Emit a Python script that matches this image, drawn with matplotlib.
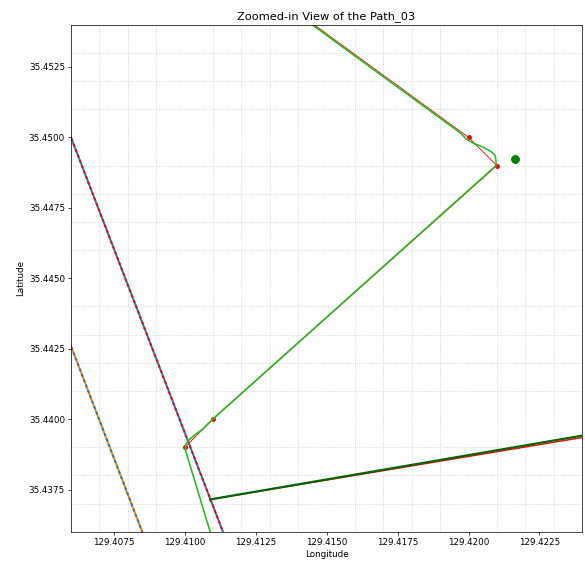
import numpy as np
import matplotlib
matplotlib.use("Agg")
import matplotlib.pyplot as plt
from matplotlib import ticker

# lane centre lines (solid) with the reference lines drawn dashed on top
lane_a_lon = [129.4055, 129.4120]
lane_a_lat = [35.4513, 35.4343]
lane_b_lon = [129.4055, 129.4090]
lane_b_lat = [35.4439, 35.4347]

# crossing road
road_lon = [129.4109, 129.4245]
road_lat = [35.43715, 35.43950]
road_ref_lat = [35.43715, 35.43943]

# planned waypoints of Path_03
wp_lon = [129.4100, 129.4110, 129.4210, 129.4200, 129.4132]
wp_lat = [35.4390, 35.4400, 35.4490, 35.4500, 35.4550]

# smoothed trajectory through the waypoints
traj_lon = [129.41108, 129.41090, 129.41002, 129.41006, 129.41017, 129.41038,
            129.41062, 129.41087, 129.41101, 129.42097, 129.42097, 129.42094,
            129.42080, 129.42048, 129.42013, 129.41992, 129.41971, 129.41298]
traj_lat = [35.43545, 35.43600, 35.43893, 35.43914, 35.43928, 35.43946,
            35.43963, 35.43988, 35.44002, 35.44900, 35.44914, 35.44935,
            35.44949, 35.44967, 35.44981, 35.44994, 35.45016, 35.45511]

# current vehicle position
pos_lon = [129.42164]
pos_lat = [35.44924]

DPI = 63
fig, ax = plt.subplots(figsize=(585 / DPI, 561 / DPI), dpi=DPI)
fig.subplots_adjust(left=0.1215, right=0.995, top=0.956, bottom=0.052)

ax.plot(lane_a_lon, lane_a_lat, color='tab:blue', lw=2.2)
ax.plot(lane_a_lon, lane_a_lat, color='red', lw=2.2, dashes=(1.5, 1.5))
ax.plot(lane_b_lon, lane_b_lat, color='tab:orange', lw=2.2)
ax.plot(lane_b_lon, lane_b_lat, color='tab:blue', lw=2.2, dashes=(1.5, 1.5))

ax.plot(road_lon, road_ref_lat, color='red', lw=1.6)
ax.plot(road_lon, road_lat, color='#006400', lw=2.5)

ax.plot(wp_lon, wp_lat, color='red', lw=1.0, marker='o', markersize=4.5)
ax.plot(traj_lon, traj_lat, color='#22bb22', lw=1.8)
ax.plot(pos_lon, pos_lat, 'o', color='green', markersize=9)

ax.set_xlim(129.406, 129.424)
ax.set_ylim(35.436, 35.454)
ax.ticklabel_format(useOffset=False)
ax.xaxis.set_major_locator(ticker.MultipleLocator(0.0025))
ax.yaxis.set_major_locator(ticker.MultipleLocator(0.0025))
ax.xaxis.set_minor_locator(ticker.MultipleLocator(0.001))
ax.yaxis.set_minor_locator(ticker.MultipleLocator(0.001))
ax.tick_params(which='minor', length=0)
ax.grid(which='minor', color='#cccccc', linestyle=':', lw=0.9)

ax.set_title('Zoomed-in View of the Path_03', fontsize=13)
ax.set_xlabel('Longitude')
ax.set_ylabel('Latitude')

fig.savefig('out.png', dpi=DPI)
